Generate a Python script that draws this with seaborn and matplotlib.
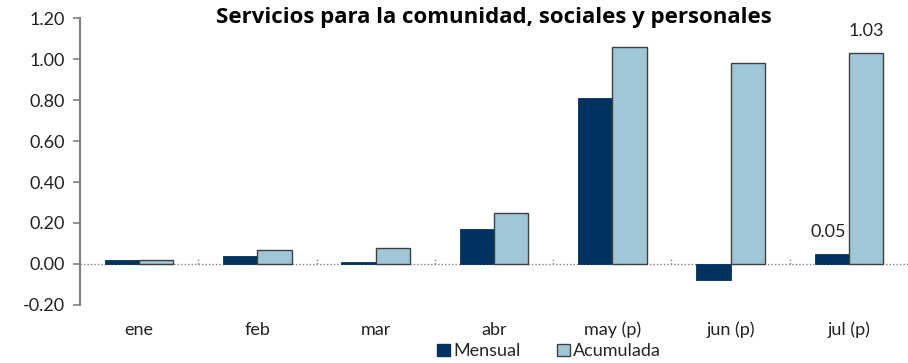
import matplotlib
matplotlib.use("Agg")
import matplotlib.pyplot as plt
from matplotlib.patches import Patch
import seaborn as sns
import pandas as pd

meses = ["ene", "feb", "mar", "abr", "may (p)", "jun (p)", "jul (p)"]
mensual = [0.02, 0.04, 0.01, 0.17, 0.81, -0.08, 0.05]
acumulada = [0.02, 0.07, 0.08, 0.25, 1.06, 0.98, 1.03]
series = ["Mensual", "Acumulada"]
colores = ["#00325F", "#9FC7D8"]
titulo = "Servicios para la comunidad, sociales y personales"

df = pd.DataFrame({
    "mes": meses * 2,
    "valor": mensual + acumulada,
    "serie": [series[0]] * len(meses) + [series[1]] * len(meses),
})

sns.set_theme(style="white")
plt.rcParams["font.family"] = ["Lato", "DejaVu Sans"]

fig = plt.figure(figsize=(9.08, 3.63), dpi=100)
ax = fig.add_axes([0.088, 0.160, 0.912, 0.790])

sns.barplot(data=df, x="mes", y="valor", hue="serie", palette=colores,
            width=0.58, ax=ax, legend=False, saturation=1)

# Monthly bars are flat; cumulative bars get a dark outline
for bar in ax.containers[0]:
    bar.set_edgecolor(colores[0])
    bar.set_linewidth(0.6)
for bar in ax.containers[1]:
    bar.set_edgecolor("#404040")
    bar.set_linewidth(1.0)

ax.set_ylim(-0.2, 1.2)
ax.set_xlim(-0.5, len(meses) - 0.5)
ax.set_yticks([-0.2, 0.0, 0.2, 0.4, 0.6, 0.8, 1.0, 1.2])
ax.set_yticklabels([f"{v:.2f}" for v in ax.get_yticks()])
ax.set_xlabel("")
ax.set_ylabel("")

# zero line and small category separators
ax.axhline(0, color="#808080", linestyle=(0, (1, 1.5)), linewidth=1.0, zorder=0)
ax.vlines([i + 0.5 for i in range(len(meses) - 1)], 0, 0.025,
          colors="#808080", linestyles=(0, (1, 1.5)), linewidth=1.0)

for s in ["top", "right", "bottom"]:
    ax.spines[s].set_visible(False)
ax.spines["left"].set_color("#808080")
ax.spines["left"].set_linewidth(1.5)
ax.tick_params(axis="y", which="major", left=True, length=5, width=1.2,
               color="#808080", labelsize=13, labelcolor="#222222", pad=6)
ax.tick_params(axis="x", bottom=False, labelsize=13, labelcolor="#222222", pad=6)

# value labels on the last month
ax.text(6 - 0.145 - 0.03, mensual[6] + 0.065, f"{mensual[6]:.2f}", ha="center",
        va="bottom", fontsize=13, color="#222222")
ax.text(6 + 0.145, acumulada[6] + 0.07, f"{acumulada[6]:.2f}", ha="center",
        va="bottom", fontsize=13, color="#222222")

fig.text(0.544, 0.953, titulo, ha="center", va="center", fontsize=16,
         fontweight="bold", color="black", family=["Open Sans", "DejaVu Sans"])

handles = [Patch(facecolor=colores[0], edgecolor=colores[0]),
           Patch(facecolor=colores[1], edgecolor="#404040")]
fig.legend(handles, series, loc="lower center", bbox_to_anchor=(0.605, -0.035),
           ncol=2, frameon=False, fontsize=13, handlelength=0.7,
           handleheight=0.7, handletextpad=0.2, columnspacing=2.0)

fig.savefig("out.png", dpi=100)
